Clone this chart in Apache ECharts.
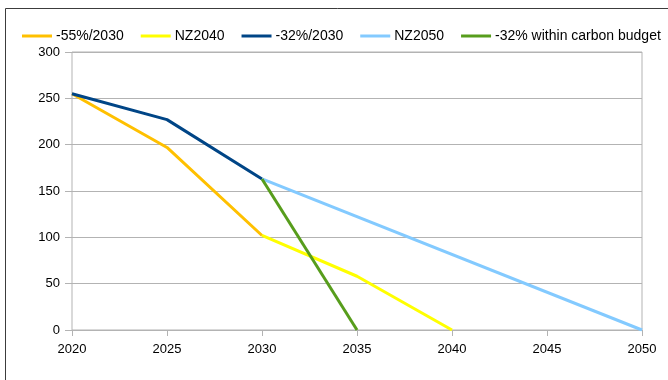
<!DOCTYPE html>
<html>
<head>
<meta charset="utf-8">
<script src="https://cdn.jsdelivr.net/npm/echarts@6/dist/echarts.min.js"></script>
<style>
  html, body { margin: 0; padding: 0; background: #fff; }
  #chart { width: 668px; height: 380px; }
</style>
</head>
<body>
<div id="chart"></div>
<script>
// Emission pathways (values per year)
const seriesNames = ['-55%/2030', 'NZ2040', '-32%/2030', 'NZ2050', '-32% within carbon budget'];
const years55 = [2020, 2025, 2030];
const values55 = [255, 197, 102];
const yearsNZ2040 = [2030, 2035, 2040];
const valuesNZ2040 = [102, 58, 0];
const years32 = [2020, 2025, 2030];
const values32 = [255, 227, 163];
const yearsNZ2050 = [2030, 2050];
const valuesNZ2050 = [163, 0];
const yearsBudget = [2030, 2035];
const valuesBudget = [163, 0];
const yTicks = [0, 50, 100, 150, 200, 250, 300];
const xTicks = [2020, 2025, 2030, 2035, 2040, 2045, 2050];

const colors = ['#ffc000', '#ffff00', '#004586', '#83caff', '#579d1c'];
const pair = (xs, ys) => xs.map((x, i) => [x, ys[i]]);
const allData = [
  pair(years55, values55),
  pair(yearsNZ2040, valuesNZ2040),
  pair(years32, values32),
  pair(yearsNZ2050, valuesNZ2050),
  pair(yearsBudget, valuesBudget)
];

const chart = echarts.init(document.getElementById('chart'), null, { renderer: 'canvas' });
const font = 'Liberation Sans, Arial, sans-serif';

chart.setOption({
  animation: false,
  backgroundColor: '#fff',
  textStyle: { fontFamily: font },
  graphic: [{
    type: 'rect',
    shape: { x: 5.5, y: 8.5, width: 800, height: 500 },
    style: { fill: 'none', stroke: '#3c3c3c', lineWidth: 1 },
    silent: true
  }],
  legend: {
    left: 17,
    top: 24,
    icon: 'rect',
    itemWidth: 30,
    itemHeight: 3,
    itemGap: 17,
    textStyle: { fontFamily: font, fontSize: 14, color: '#000', padding: [0, 0, 0, -1] },
    data: seriesNames
  },
  grid: { left: 72, right: 26, top: 52, bottom: 50, show: true, borderColor: '#b3b3b3', borderWidth: 1 },
  xAxis: {
    type: 'value',
    min: xTicks[0],
    max: xTicks[xTicks.length - 1],
    interval: 5,
    axisLine: { show: true, lineStyle: { color: '#b3b3b3' } },
    axisTick: { show: true, length: 6, lineStyle: { color: '#b3b3b3' } },
    axisLabel: { color: '#000', fontSize: 13, margin: 13, fontFamily: font, formatter: v => String(v) },
    splitLine: { show: false }
  },
  yAxis: {
    type: 'value',
    min: yTicks[0],
    max: yTicks[yTicks.length - 1],
    interval: 50,
    axisLine: { show: false },
    axisTick: { show: true, length: 7, lineStyle: { color: '#b3b3b3' } },
    axisLabel: { color: '#000', fontSize: 13, margin: 12, fontFamily: font },
    splitLine: { show: true, lineStyle: { color: '#b3b3b3', width: 1 } }
  },
  series: seriesNames.map((name, i) => ({
    name,
    type: 'line',
    data: allData[i],
    symbol: 'none',
    color: colors[i],
    lineStyle: { width: 3, color: colors[i] },
    z: 2 + i
  }))
});
</script>
</body>
</html>
